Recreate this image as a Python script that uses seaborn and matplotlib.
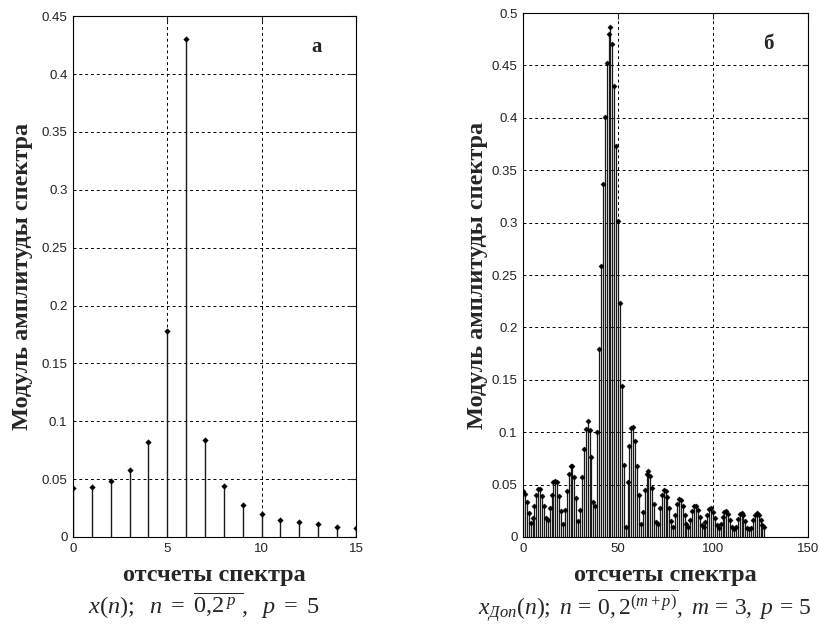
import numpy as np
import matplotlib
matplotlib.use("Agg")
import matplotlib.pyplot as plt
import pandas as pd
import seaborn as sns
from matplotlib.ticker import FuncFormatter, MultipleLocator


# spectrum of the original signal, 16 samples
spec_a = [0.042, 0.043, 0.048, 0.058, 0.082, 0.178, 0.430, 0.084,
          0.044, 0.028, 0.020, 0.015, 0.013, 0.011, 0.009, 0.008]

# spectrum of the zero-padded signal, 128 samples
spec_b = [0.044, 0.041, 0.033, 0.023, 0.013, 0.018, 0.030, 0.040,
          0.046, 0.046, 0.039, 0.030, 0.018, 0.016, 0.028, 0.040,
          0.052, 0.053, 0.052, 0.039, 0.025, 0.012, 0.026, 0.044,
          0.060, 0.068, 0.068, 0.057, 0.037, 0.015, 0.026, 0.057,
          0.084, 0.103, 0.111, 0.102, 0.076, 0.033, 0.030, 0.100,
          0.179, 0.259, 0.337, 0.401, 0.452, 0.480, 0.487, 0.470,
          0.430, 0.373, 0.302, 0.223, 0.144, 0.069, 0.010, 0.052,
          0.087, 0.104, 0.105, 0.092, 0.068, 0.040, 0.012, 0.024,
          0.045, 0.060, 0.063, 0.058, 0.047, 0.031, 0.014, 0.012,
          0.028, 0.040, 0.045, 0.044, 0.038, 0.028, 0.015, 0.010,
          0.021, 0.031, 0.036, 0.035, 0.030, 0.021, 0.012, 0.010,
          0.016, 0.025, 0.030, 0.030, 0.026, 0.019, 0.011, 0.010,
          0.014, 0.021, 0.027, 0.028, 0.024, 0.018, 0.011, 0.009,
          0.012, 0.019, 0.024, 0.025, 0.022, 0.016, 0.010, 0.008,
          0.010, 0.017, 0.022, 0.023, 0.021, 0.015, 0.009, 0.008,
          0.009, 0.016, 0.021, 0.023, 0.021, 0.016, 0.011, 0.010]

xlabel = "отсчеты спектра"
ylabel = "Модуль амплитуды спектра"
caption_a = r"$x(n);\ \ n\ =\ \overline{0{,}2^{\,p}\ },\ \ p\ =\ 5$"
caption_b = r"$x_{Доп}(n);\ n\,=\,\overline{0,2^{(m+p)}},\ m\,=\,3,\ p\,=\,5$"

sns.set_style("white")
plt.rcParams["font.family"] = ["Liberation Sans", "DejaVu Sans"]
plt.rcParams["mathtext.fontset"] = "custom"
plt.rcParams["mathtext.rm"] = "Liberation Serif"
plt.rcParams["mathtext.it"] = "Liberation Serif:italic"
plt.rcParams["mathtext.bf"] = "Liberation Serif:bold"

serif = ["Liberation Serif", "DejaVu Serif"]

fig = plt.figure(figsize=(8.19, 6.26), dpi=100)
ax_a = fig.add_axes([0.0891, 0.1422, 0.3455, 0.832])
ax_b = fig.add_axes([0.6386, 0.1422, 0.348, 0.837])


def stem_panel(ax, values, xmax, ymax, xstep, letter, lw, ms, ylab_x):
    df = pd.DataFrame({"n": np.arange(len(values)), "amp": values})
    ax.vlines(df["n"], 0, df["amp"], color="#1a1a1a", linewidth=lw, zorder=2)
    sns.scatterplot(data=df, x="n", y="amp", ax=ax, color="black",
                    marker="D", s=ms, edgecolor="black", linewidth=0.3,
                    zorder=3, legend=False)
    ax.set_xlim(0, xmax)
    ax.set_ylim(0, ymax)
    ax.xaxis.set_major_locator(MultipleLocator(xstep))
    ax.yaxis.set_major_locator(MultipleLocator(0.05))
    ax.yaxis.set_major_formatter(FuncFormatter(lambda v, p: "%g" % round(v, 2)))
    ax.grid(True, color="black", linestyle=(0, (3, 3)), linewidth=0.7)
    ax.tick_params(direction="in", length=4, labelsize=9.5, top=True,
                   right=True, pad=4, labelcolor="#222222")
    for s in ax.spines.values():
        s.set_color("black")
        s.set_linewidth(0.8)
    ax.set_xlabel(xlabel, family=serif, fontsize=17.5, fontweight="bold")
    ax.set_ylabel(ylabel, family=serif, fontsize=17.5, fontweight="bold")
    ax.xaxis.set_label_coords(0.5, -0.053)
    ax.yaxis.set_label_coords(ylab_x, 0.5)
    ax.text(0.86, 0.94, letter, transform=ax.transAxes, family=serif,
            fontsize=15, fontweight="bold", ha="center", va="center")


stem_panel(ax_a, spec_a, 15, 0.45, 5, "а", 1.0, 8, -0.141)
stem_panel(ax_b, spec_b, 150, 0.5, 50, "б", 0.9, 7, -0.123)

fig.text(204 / 819, 1 - 606 / 626, caption_a, fontsize=17.5,
         ha="center", va="center")
fig.text(645 / 819, 1 - 606 / 626, caption_b, fontsize=17,
         ha="center", va="center")

fig.savefig("out.png", dpi=100)
